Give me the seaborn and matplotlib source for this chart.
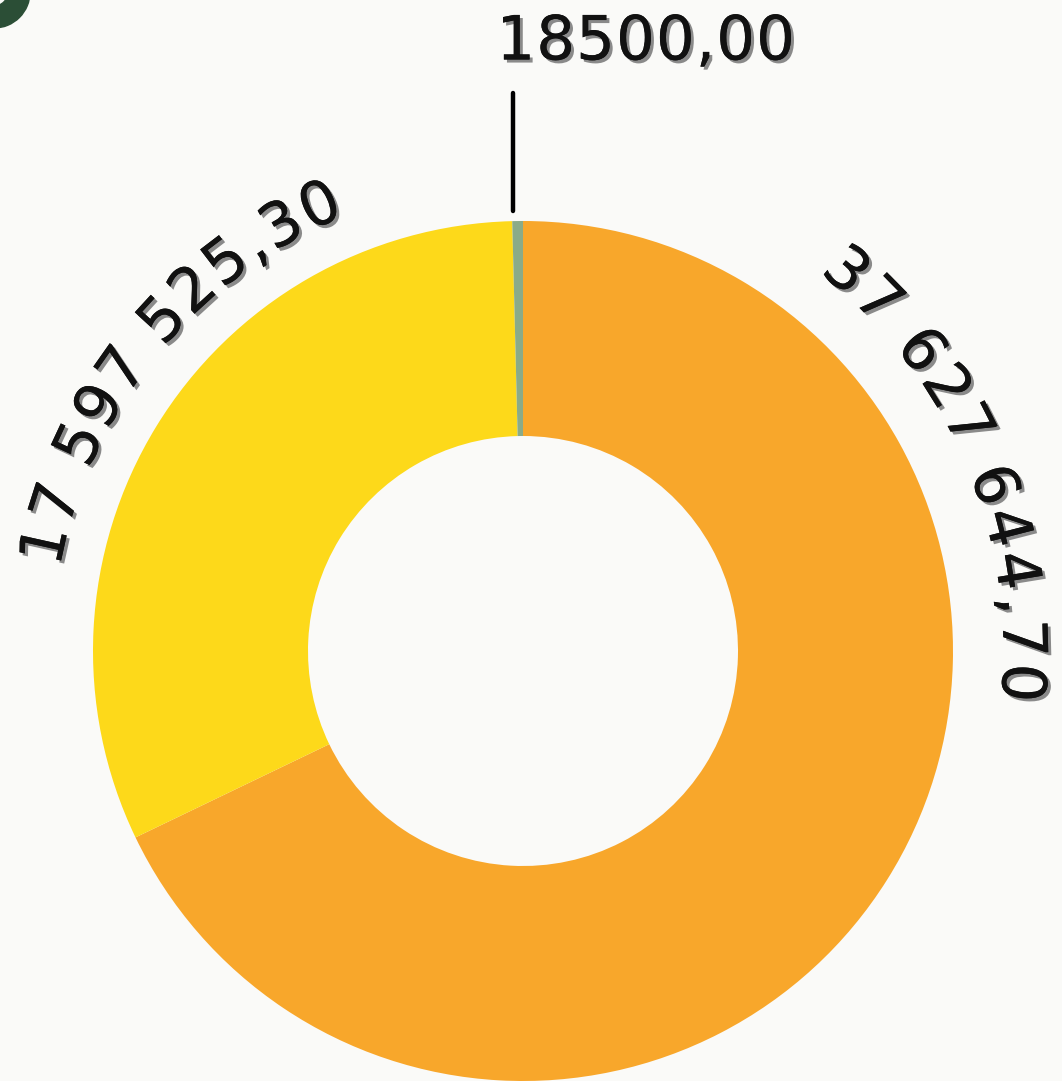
import numpy as np
import matplotlib
matplotlib.use("Agg")
import matplotlib.pyplot as plt
import matplotlib.patheffects as pe
from matplotlib.patches import Wedge
from matplotlib.font_manager import FontProperties
from matplotlib.textpath import TextToPath
import seaborn as sns

# ---- data ----
categories = ["A", "B", "C"]
values = [37627644.70, 17597525.30, 18500.00]
labels = ["37 627 644,70", "17 597 525,30", "18500,00"]
colors = ["#F8A72B", "#FDD91A", "#8AAB88"]

sns.set_theme(style="white")
plt.rcParams["font.family"] = ["DejaVu Sans"]

W, H = 1062, 1081
fig = plt.figure(figsize=(W / 100, H / 100), dpi=100)
fig.patch.set_facecolor("#FAFAF8")
ax = fig.add_axes([0, 0, 1, 1])
ax.set_facecolor("#FAFAF8")

cx, cy, R = 523, 430, 430
total = sum(values)
# tiny slices get a minimum visible size, like the original
shown = [max(v, 0.004 * total) for v in values]

ax.pie(shown, colors=sns.color_palette(colors), startangle=90, counterclock=False,
       center=(cx, cy), radius=R, wedgeprops=dict(width=R * 0.5, linewidth=0))
ax.set_xlim(0, W)
ax.set_ylim(0, H)
ax.set_aspect("equal")
ax.axis("off")

# slice angles (clockwise from top)
fr = np.array(shown) / sum(shown)
ends = 90 - 360 * np.cumsum(fr)
starts = np.r_[90, ends[:-1]]

fs = 44
prop = FontProperties(family="DejaVu Sans", size=fs)
t2p = TextToPath()
px = 100 / 72
shadow = [pe.withSimplePatchShadow(offset=(2.2, -2.2), shadow_rgbFace="#8a8a8a", alpha=1.0),
          pe.Normal()]


def char_w(c):
    if c == " ":
        return 0.42 * t2p.get_text_width_height_descent("0", prop, ismath=False)[0] * px
    return t2p.get_text_width_height_descent(c, prop, ismath=False)[0] * px


def arc_text(s, theta_c, r, track):
    widths = [char_w(c) for c in s]
    total_len = sum(widths) + track * (len(s) - 1)
    pos = -total_len / 2
    for c, w in zip(s, widths):
        mid = pos + w / 2
        th = theta_c - np.degrees(mid / r)
        t = np.radians(th)
        ax.text(cx + r * np.cos(t), cy + r * np.sin(t), c, fontsize=fs,
                rotation=th - 90, rotation_mode="anchor", ha="center", va="center",
                color="#111111", path_effects=shadow)
        pos += w + track


def line_text(s, x, y, track):
    widths = [char_w(c) for c in s]
    total_len = sum(widths) + track * (len(s) - 1)
    pos = x - total_len / 2
    for c, w in zip(s, widths):
        ax.text(pos + w / 2, y, c, fontsize=fs, ha="center", va="center",
                color="#111111", path_effects=shadow)
        pos += w + track


label_angles = [23, 141]
arc_text(labels[0], label_angles[0], 497, 5)
arc_text(labels[1], label_angles[1], 487, 4)

# leader line for the small slice
mid = np.radians((starts[2] + ends[2]) / 2)
lx = cx + R * np.cos(mid) - 5
ax.plot([lx, lx], [cy + R + 10, cy + R + 128], color="black", lw=3.2,
        solid_capstyle="round")
line_text(labels[2], lx + 133, cy + R + 178, 1)

# corner decoration
ax.add_patch(Wedge((-6, H + 8), 36, 0, 360, width=22, color="#2B4E36"))

fig.savefig("out.png", dpi=100, facecolor=fig.get_facecolor())
